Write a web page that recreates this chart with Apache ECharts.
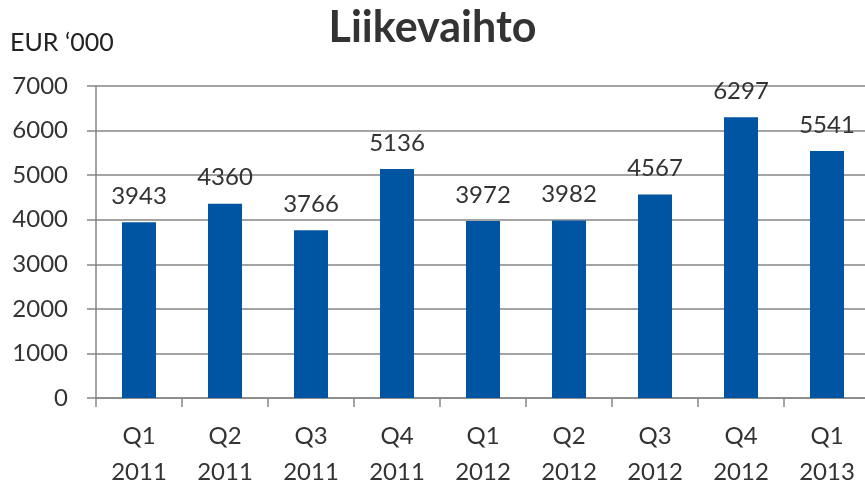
<!DOCTYPE html>
<html>
<head>
<meta charset="utf-8">
<script src="https://cdn.jsdelivr.net/npm/echarts@6/dist/echarts.min.js"></script>
<style>
  html, body { margin: 0; padding: 0; background: #fff; }
  #main { width: 865px; height: 485px; }
</style>
</head>
<body>
<div id="main"></div>
<script>
// kvartaalit ja liikevaihto
var quarters = ['Q1\n2011', 'Q2\n2011', 'Q3\n2011', 'Q4\n2011', 'Q1\n2012', 'Q2\n2012', 'Q3\n2012', 'Q4\n2012', 'Q1\n2013'];
var revenue = [3943, 4360, 3766, 5136, 3972, 3982, 4567, 6297, 5541];

var font = 'Lato, "Open Sans", sans-serif';
var chart = echarts.init(document.getElementById('main'));
chart.setOption({
  animation: false,
  title: {
    text: 'Liikevaihto',
    left: 'center',
    top: 2,
    textStyle: { fontFamily: font, fontSize: 43, fontWeight: 'bold', color: '#333' }
  },
  graphic: [{
    type: 'text',
    left: 10,
    top: 30,
    style: { text: 'EUR \u2018000', font: '25px ' + font, fill: '#222' }
  }],
  grid: { left: 96, right: -5, top: 86, bottom: 87, outerBoundsMode: 'none', containLabel: false },
  xAxis: {
    type: 'category',
    data: quarters,
    axisLine: { lineStyle: { color: '#868686', width: 1.5 } },
    axisTick: { show: true, length: 9, lineStyle: { color: '#868686', width: 1.5 } },
    axisLabel: { fontFamily: font, fontSize: 24, color: '#333', lineHeight: 36, margin: 20 }
  },
  yAxis: {
    type: 'value',
    min: 0,
    max: 7000,
    interval: 1000,
    axisLine: { show: true, lineStyle: { color: '#868686', width: 1.5 } },
    axisTick: { show: true, length: 9, lineStyle: { color: '#868686', width: 1.5 } },
    splitLine: { lineStyle: { color: '#868686', width: 1.5 } },
    axisLabel: { fontFamily: font, fontSize: 24, color: '#333', margin: 28, formatter: function (v) { return String(v); } }
  },
  series: [{
    type: 'bar',
    data: revenue,
    barWidth: 34,
    itemStyle: { color: '#0055A2' },
    label: {
      show: true,
      position: 'top',
      distance: 14,
      fontFamily: font,
      fontSize: 24,
      color: '#333'
    }
  }]
});
</script>
</body>
</html>
